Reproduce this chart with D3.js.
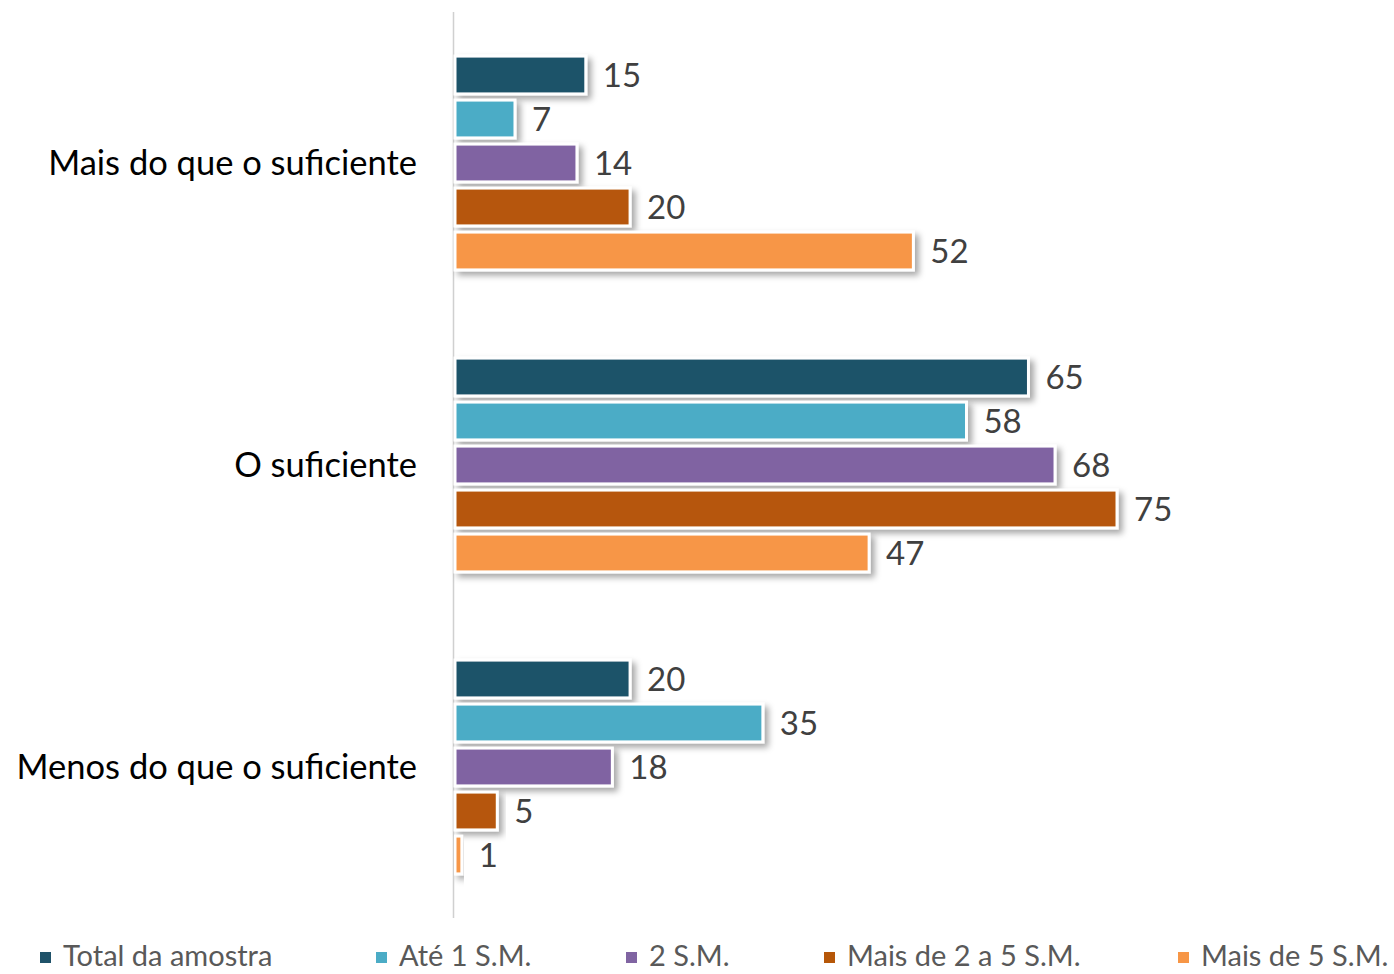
<!DOCTYPE html>
<html><head><meta charset="utf-8">
<script src="https://cdn.jsdelivr.net/npm/d3@7"></script>
<style>body{margin:0;background:#fff}svg{display:block}</style>
</head><body>
<svg id="c" width="1394" height="974"></svg>
<script>
const categories = ["Mais do que o suficiente", "O suficiente", "Menos do que o suficiente"];
const seriesNames = ["Total da amostra", "Até 1 S.M.", "2 S.M.", "Mais de 2 a 5 S.M.", "Mais de 5 S.M."];
const totalAmostra = [15, 65, 20];
const ate1SM = [7, 58, 35];
const sm2 = [14, 68, 18];
const mais2a5SM = [20, 75, 5];
const mais5SM = [52, 47, 1];
const colors = ["#1F5269", "#4BACC6", "#8064A2", "#B65708", "#F79646"];

const seriesValues = [totalAmostra, ate1SM, sm2, mais2a5SM, mais5SM];
const FONT = "Lato, 'Open Sans', sans-serif";
const svg = d3.select("#c");

const defs = svg.append("defs");
const f = defs.append("filter").attr("id","sh").attr("x","-10%").attr("y","-30%").attr("width","130%").attr("height","180%");
f.append("feDropShadow").attr("dx",4).attr("dy",4).attr("stdDeviation",3).attr("flood-color","#000").attr("flood-opacity",0.35);

const x = d3.scaleLinear().domain([0, 75]).range([453, 1117]);
const y = d3.scaleBand().domain(categories).range([12, 918]).padding(0);
const yi = d3.scaleBand().domain(seriesNames).range([0, 220]).paddingInner(0.14).paddingOuter(0.07);

// axis line
svg.append("line").attr("x1",453.5).attr("x2",453.5).attr("y1",12).attr("y2",918)
  .attr("stroke","#d0d0d0").attr("stroke-width",1.5);

categories.forEach((cat, ci) => {
  const cy = y(cat) + y.bandwidth()/2;
  const top = cy - 110;
  const g = svg.append("g");
  seriesNames.forEach((s, si) => {
    const v = seriesValues[si][ci];
    const by = top + yi(s);
    g.append("rect").attr("x", x(0)+2).attr("y", by).attr("width", x(v)-x(0)-2).attr("height", yi.bandwidth())
      .attr("fill", colors[si]).attr("stroke","#fff").attr("stroke-width",3).attr("filter","url(#sh)");
    g.append("text").attr("x", x(v)+17).attr("y", by + yi.bandwidth()/2).attr("dy","0.36em")
      .attr("font-family",FONT).attr("font-size",33).attr("fill","#404040").text(v);
  });
  svg.append("text").attr("x",417).attr("y",cy).attr("dy","0.36em").attr("text-anchor","end")
    .attr("font-family",FONT).attr("font-size",34.5).attr("fill","#000").text(cat);
});

const legX = [40, 376, 626, 824, 1178];
seriesNames.forEach((s, si) => {
  const lg = svg.append("g").attr("transform",`translate(${legX[si]},956)`);
  lg.append("rect").attr("x",0).attr("y",-4).attr("width",11).attr("height",11).attr("fill",colors[si]);
  lg.append("text").attr("x",23).attr("y",0).attr("dy","0.36em").attr("font-family",FONT)
    .attr("font-size",29).attr("fill","#595959").text(s);
});
</script>
</body></html>
